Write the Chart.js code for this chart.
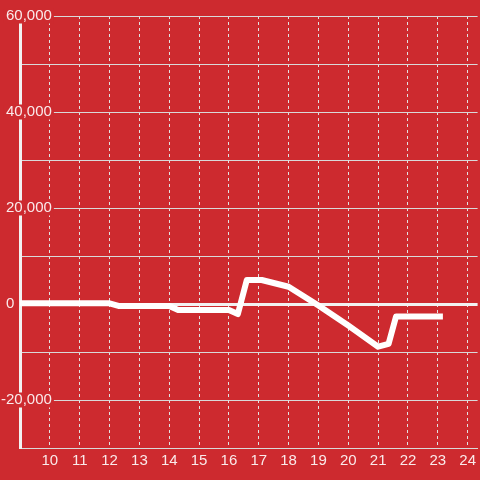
<!DOCTYPE html>
<html>
<head>
<meta charset="utf-8">
<script src="https://cdn.jsdelivr.net/npm/chart.js@4"></script>
<style>
  html, body { margin: 0; padding: 0; background: #cd2a2f; }
  #chart { display: block; }
</style>
</head>
<body>
<canvas id="chart" width="480" height="480"></canvas>
<script>
// Data
const hours = [9, 12, 12.3, 14, 14.3, 16, 16.3, 16.6, 17.1, 18, 19, 20, 21, 21.35, 21.6, 23.07];
const values = [150, 150, -400, -400, -1250, -1250, -2100, 5000, 5000, 3600, -300, -4500, -8900, -8300, -2600, -2600];
const yLabelTicks = [60000, 40000, 20000, 0, -20000];

const bg = '#cd2a2f';
const textColor = 'rgba(255,255,255,0.9)';

const canvas = document.getElementById('chart');
const ctx = canvas.getContext('2d');

function yLabel(v) {
    if (!yLabelTicks.includes(v)) return '';
    // the zero label sits near the left edge in the original
    if (v === 0) return '0         ';
    return v.toLocaleString('en-US');
}

new Chart(ctx, {
    type: 'line',
    data: {
        datasets: [{
            data: hours.map((h, i) => ({ x: h, y: values[i] })),
            borderColor: '#ffffff',
            borderWidth: 6,
            borderCapStyle: 'square',
            borderJoinStyle: 'round',
            pointRadius: 0,
            tension: 0,
            fill: false
        }]
    },
    options: {
        responsive: false,
        animation: false,
        layout: { padding: { left: 5, top: 16, right: 0, bottom: 0 } },
        plugins: { legend: { display: false }, tooltip: { enabled: false } },
        scales: {
            x: {
                type: 'linear',
                min: 9,
                max: 24.333,
                afterFit: (scale) => { scale.height = 32; },
                ticks: {
                    stepSize: 1,
                    includeBounds: false,
                    color: textColor,
                    font: { family: 'Liberation Sans', size: 15 },
                    padding: 4,
                    maxRotation: 0,
                    callback: (v) => v === 9 ? null : String(v)
                },
                grid: {
                    color: '#e2e2e2',
                    lineWidth: 1,
                    drawTicks: false
                },
                // in v4 border.dash sets the grid line dash
                border: { display: true, color: '#d9d9d9', width: 1, dash: [3, 3] }
            },
            y: {
                min: -30000,
                max: 60000,
                afterFit: (scale) => { scale.width = 15; },
                ticks: {
                    stepSize: 10000,
                    mirror: true,
                    crossAlign: 'far',
                    padding: -19,
                    color: textColor,
                    font: { family: 'Liberation Sans', size: 15, lineHeight: 1 },
                    showLabelBackdrop: (c) => c.tick.value !== 0 && yLabelTicks.includes(c.tick.value),
                    backdropColor: bg,
                    backdropPadding: { top: 0, bottom: 0, left: 2, right: 2 },
                    callback: yLabel
                },
                grid: {
                    color: (c) => c.tick && c.tick.value === 0 ? '#f2f2f2' : '#d9d9d9',
                    lineWidth: (c) => c.tick && c.tick.value === 0 ? 3 : 1,
                    drawTicks: false
                },
                border: { display: true, color: '#f2f2f2', width: 3 }
            }
        }
    }
});
</script>
</body>
</html>
